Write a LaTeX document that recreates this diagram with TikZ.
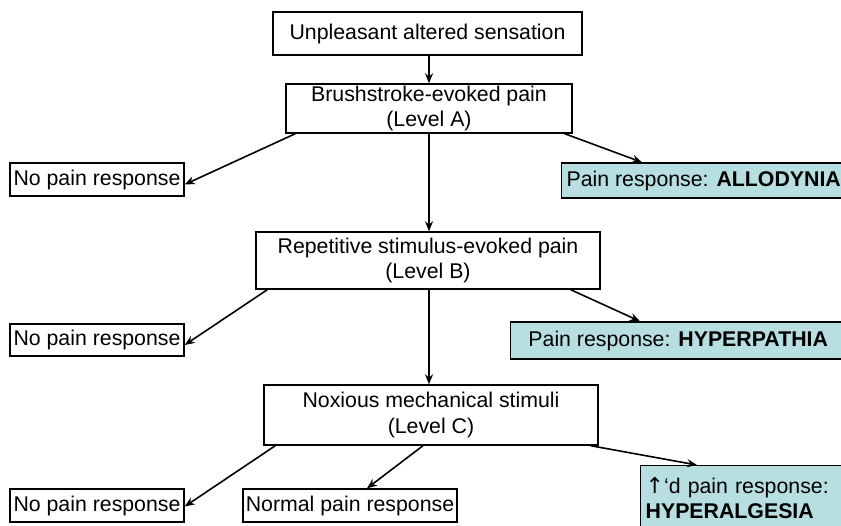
\documentclass[tikz,border=0pt]{standalone}
\usepackage{fontspec}
\setmainfont{Liberation Sans}
\newfontfamily\dejavu{DejaVu Sans}
\usetikzlibrary{arrows.meta}
\definecolor{painfill}{RGB}{183,222,224}
\begin{document}
\begin{tikzpicture}[x=1pt,y=-1pt,
  box/.style={draw=black,line width=1.4pt,fill=white,inner sep=0pt,align=center,
    font=\fontsize{21.3}{25.5}\selectfont},
  resp/.style={box,fill=painfill},
  arr/.style={line width=1.6pt,-{Stealth[length=10pt,width=8pt]}}]
\useasboundingbox (0,0) rectangle (841,525);
\node[box,minimum width=309pt,minimum height=43pt] (b1) at (427.5,33.5) {Unpleasant altered sensation};
\node[box,minimum width=286pt,minimum height=49pt] (b2) at (429,108.5) {Brushstroke-evoked pain\\(Level A)};
\node[box,minimum width=174pt,minimum height=33pt] (np1) at (97,179.5) {No pain response};
\node[resp,minimum width=284pt,minimum height=35pt,anchor=west] (al) at (561,180.5) {Pain response: \textbf{ALLODYNIA}};
\node[box,minimum width=344pt,minimum height=57pt] (b5) at (428,260.5) {Repetitive stimulus-evoked pain\\(Level B)};
\node[box,minimum width=174pt,minimum height=32pt] (np2) at (97,340) {No pain response};
\node[resp,minimum width=335pt,minimum height=37pt,anchor=west] (hp) at (510,340.5) {Pain response: \textbf{HYPERPATHIA}};
\node[box,minimum width=334pt,minimum height=60pt] (b8) at (431,415) {Noxious mechanical stimuli\\(Level C)};
\node[box,minimum width=174pt,minimum height=33pt] (np3) at (97,505.5) {No pain response};
\node[box,minimum width=214pt,minimum height=33pt] (nr) at (350,505.5) {Normal pain response};
\node[resp,minimum width=205pt,minimum height=65pt,anchor=north west,inner sep=5pt,align=left,text width=195pt] (hg) at (640,465) {{\dejavu\fontsize{22}{24}\selectfont ↑}‘d pain response:\\\textbf{HYPERALGESIA}};
\draw[arr] (b2.north |- b1.south) -- (b2.north);
\draw[arr] ([xshift=10pt]b2.south west) -- ([yshift=-5pt]np1.east);
\draw[arr] (b2.south) -- (b2.south |- b5.north);
\draw[arr] ([xshift=-8pt]b2.south east) -- ([xshift=81pt]al.north west);
\draw[arr] ([xshift=12pt]b5.south west) -- ([yshift=-5pt]np2.east);
\draw[arr] (b2.south |- b5.south) -- (b2.south |- b8.north);
\draw[arr] ([xshift=-30pt]b5.south east) -- ([xshift=130pt]hp.north west);
\draw[arr] ([xshift=12pt]b8.south west) -- ([yshift=-1pt]np3.east);
\draw[arr] ([xshift=-8pt]b8.south) -- ([xshift=17pt]nr.north);
\draw[arr] ([xshift=-8pt]b8.south east) -- ([xshift=57pt]hg.north west);
\end{tikzpicture}
\end{document}
